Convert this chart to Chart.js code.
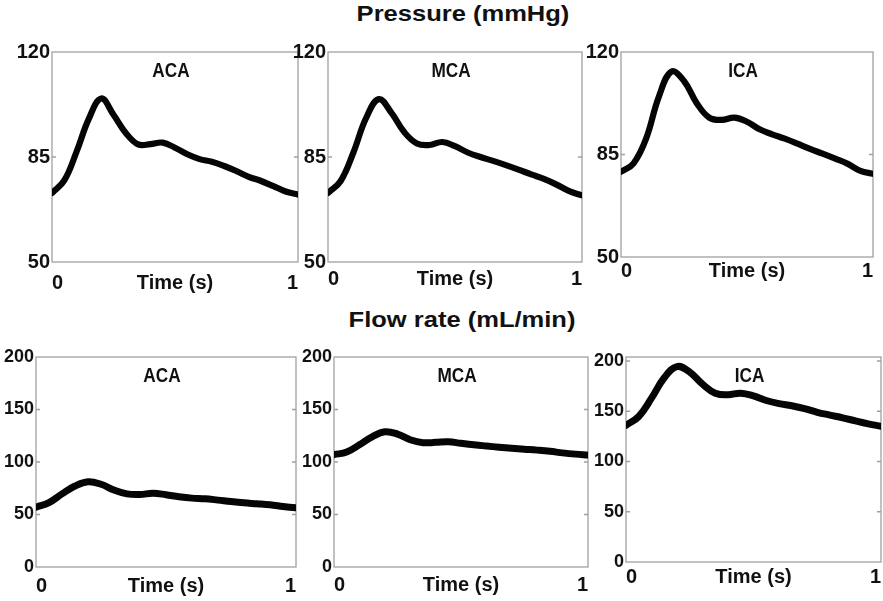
<!DOCTYPE html>
<html>
<head>
<meta charset="utf-8">
<title>Cerebral artery pressure and flow waveforms</title>
<script src="https://cdn.jsdelivr.net/npm/chart.js@4.4.1/dist/chart.umd.min.js"></script>
<style>
  html, body { margin: 0; padding: 0; background: #fff; width: 883px; height: 601px; overflow: hidden; }
  canvas { position: absolute; }
  .heading {
    position: absolute; width: 300px; text-align: center; white-space: nowrap;
    font: bold 22px "Liberation Sans", Arial, sans-serif; line-height: 22px; color: #111;
    transform: scaleX(1.16); transform-origin: center;
  }
</style>
</head>
<body>
<div class="heading" id="head0" style="left:313px; top:3px;"></div>
<div class="heading" id="head1" style="left:312px; top:309px;"></div>

<script>
// ---- data -------------------------------------------------------------
const time = [0, 0.05, 0.1, 0.15, 0.2, 0.25, 0.3, 0.35, 0.4, 0.45, 0.5,
              0.55, 0.6, 0.65, 0.7, 0.75, 0.8, 0.85, 0.9, 0.95, 1];

// pressure, mmHg
const pressureACA = [73, 77.2, 86.8, 97.8, 104.5, 99.1, 93, 89.2, 89.3, 89.8, 88.1,
                     85.9, 84.3, 83.4, 82, 80.3, 78.4, 77, 75.3, 73.5, 72.5];
const pressureMCA = [73, 77, 86.5, 98, 104.3, 99.7, 93.3, 89.5, 89, 90, 88.6,
                     86.5, 85, 83.7, 82.3, 80.8, 79.2, 77.7, 75.8, 73.6, 72.2];
const pressureICA = [79.1, 82, 90.5, 104.7, 113.3, 110.1, 102.6, 97.6, 96.8, 97.6, 96.2,
                     93.6, 91.9, 90.4, 88.7, 86.9, 85.3, 83.6, 81.8, 79.4, 78.4];

// flow rate, mL/min
const flowACA = [57, 61.3, 69.6, 77.1, 81.1, 78.8, 73.3, 69.6, 69, 70.2, 68.8,
                 66.9, 65.6, 65, 63.7, 62.3, 61.1, 60.2, 59.2, 57.7, 56.3];
const flowMCA = [107, 109.5, 116.4, 124, 128.8, 126.6, 121.2, 118.4, 118.7, 119.3, 117.8,
                 116.4, 115.2, 114.1, 113.1, 112.2, 111.3, 110.2, 108.7, 107.5, 106.6];
const flowICA = [136, 144.8, 163, 183.4, 194.5, 189, 177, 168, 166.4, 168, 165.3,
                 160.7, 157.6, 155.5, 152.7, 149, 146.2, 143.5, 140.4, 137.5, 135];

const arteries = ['ACA', 'MCA', 'ICA'];
const groupTitles = ['Pressure (mmHg)', 'Flow rate (mL/min)'];
const timeTicks = [0, 1];
const pressureTicks = [50, 85, 120];
const flowTicks = [0, 50, 100, 150, 200];
const timeLabel = 'Time (s)';

// ---- layout: plot boxes on the page ------------------------------------
const AXW = 50, AXH = 40, PT = 14, PR = 8;
const panels = [
  { box: [52, 52, 298, 262],  values: pressureACA, label: 0, yTicks: pressureTicks, yMin: 50, yMax: 120, gap: 21,   yFont: 20, line: 6.2 },
  { box: [328, 52, 582, 262], values: pressureMCA, label: 1, yTicks: pressureTicks, yMin: 50, yMax: 120, gap: 17,   yFont: 20, line: 6.2 },
  { box: [621, 52, 873, 257], values: pressureICA, label: 2, yTicks: pressureTicks, yMin: 50, yMax: 120, gap: 14.5, yFont: 20, line: 6.2 },
  { box: [36, 357, 296, 567], values: flowACA,     label: 0, yTicks: flowTicks,     yMin: 0,  yMax: 200, gap: 19.5, yFont: 18, line: 7 },
  { box: [334, 357, 588, 567], values: flowMCA,    label: 1, yTicks: flowTicks,     yMin: 0,  yMax: 200, gap: 18,   yFont: 18, line: 7 },
  { box: [626, 357, 881, 562], values: flowICA,    label: 2, yTicks: flowTicks,     yMin: 0,  yMax: 204, gap: 15.5, yFont: 18, line: 7 }
];

document.getElementById('head0').textContent = groupTitles[0];
document.getElementById('head1').textContent = groupTitles[1];

Chart.defaults.font.family = '"Liberation Sans", Arial, sans-serif';
Chart.defaults.color = '#111';

// frame, inward tick marks and the artery name inside each plot
const panelDecor = {
  id: 'panelDecor',
  beforeDatasetsDraw(chart) {
    const { ctx, chartArea: a, scales: { y } } = chart;
    ctx.save();
    ctx.strokeStyle = '#a0a0a0';
    ctx.lineWidth = 1.3;
    ctx.strokeRect(a.left, a.top, a.right - a.left, a.bottom - a.top);
    ctx.beginPath();
    y.ticks.forEach(t => {
      const py = y.getPixelForValue(t.value);
      if (py <= a.top + 2 || py >= a.bottom - 2) return;
      ctx.moveTo(a.left, py);  ctx.lineTo(a.left + 4, py);
      ctx.moveTo(a.right, py); ctx.lineTo(a.right - 4, py);
    });
    ctx.stroke();
    ctx.restore();
  },
  afterDatasetsDraw(chart, args, opts) {
    const { ctx, chartArea: a } = chart;
    ctx.save();
    ctx.font = 'bold 20px "Liberation Sans", Arial, sans-serif';
    ctx.fillStyle = '#111';
    ctx.textAlign = 'center';
    ctx.textBaseline = 'middle';
    ctx.translate((a.left + a.right) / 2 - 4, a.top + 19);
    ctx.scale(0.86, 1);
    ctx.fillText(opts.text, 0, 0);
    ctx.restore();
  }
};

panels.forEach(p => {
  const [x0, y0, x1, y1] = p.box;
  const canvas = document.createElement('canvas');
  const w = x1 - x0 + AXW + PR;
  const h = y1 - y0 + PT + AXH;
  canvas.width = w; canvas.height = h;
  canvas.style.left = (x0 - AXW) + 'px';
  canvas.style.top = (y0 - PT) + 'px';
  canvas.style.width = w + 'px';
  canvas.style.height = h + 'px';
  document.body.appendChild(canvas);

  new Chart(canvas, {
    type: 'line',
    data: {
      datasets: [{
        data: time.map((t, i) => ({ x: t, y: p.values[i] })),
        borderColor: '#050505',
        borderWidth: p.line,
        borderJoinStyle: 'round',
        borderCapStyle: 'round',
        pointRadius: 0,
        tension: 0.4,
        fill: false
      }]
    },
    plugins: [panelDecor],
    options: {
      responsive: false,
      animation: false,
      devicePixelRatio: 1,
      layout: { padding: { left: 0, top: PT, right: PR, bottom: 0 } },
      plugins: {
        legend: { display: false },
        tooltip: { enabled: false },
        panelDecor: { text: arteries[p.label] }
      },
      scales: {
        x: {
          type: 'linear',
          min: 0, max: 1,
          afterBuildTicks: s => { s.ticks = timeTicks.map(v => ({ value: v })); },
          afterFit: s => { s.height = AXH; s.paddingLeft = 0; s.paddingRight = 0; },
          grid: { display: false, drawTicks: false },
          border: { display: false },
          ticks: {
            align: 'inner',
            padding: p.gap - 12,
            maxRotation: 0,
            font: { size: 20, weight: 'bold' },
            color: '#111'
          },
          title: {
            display: true,
            text: timeLabel,
            font: { size: 20, weight: 'bold' },
            color: '#111',
            padding: { top: 0, bottom: 28 - p.gap }
          }
        },
        y: {
          type: 'linear',
          min: p.yMin, max: p.yMax,
          afterBuildTicks: s => { s.ticks = p.yTicks.map(v => ({ value: v })); },
          afterFit: s => { s.width = AXW; s.paddingTop = 0; s.paddingBottom = 0; },
          grid: { display: false, drawTicks: false },
          border: { display: false },
          ticks: {
            padding: 2,
            font: { size: p.yFont, weight: 'bold' },
            color: '#111'
          }
        }
      }
    }
  });
});
</script>
</body>
</html>
